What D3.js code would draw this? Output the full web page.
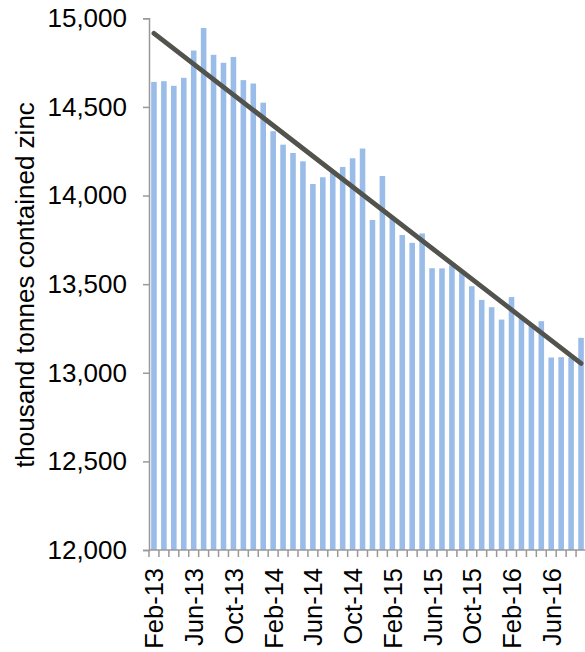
<!DOCTYPE html>
<html>
<head>
<meta charset="utf-8">
<script src="https://cdn.jsdelivr.net/npm/d3@7"></script>
<style>
  html, body { margin: 0; padding: 0; background: #fff; }
  svg { display: block; }
  text { font-family: "Liberation Sans", Arial, sans-serif; fill: #000; }
</style>
</head>
<body>
<svg id="chart" width="585" height="652"></svg>
<script>
// Monthly stocks, Feb-2013 to Sep-2016 (thousand tonnes contained zinc)
const months = [
  "Feb-13","Mar-13","Apr-13","May-13","Jun-13","Jul-13","Aug-13","Sep-13","Oct-13","Nov-13","Dec-13",
  "Jan-14","Feb-14","Mar-14","Apr-14","May-14","Jun-14","Jul-14","Aug-14","Sep-14","Oct-14","Nov-14","Dec-14",
  "Jan-15","Feb-15","Mar-15","Apr-15","May-15","Jun-15","Jul-15","Aug-15","Sep-15","Oct-15","Nov-15","Dec-15",
  "Jan-16","Feb-16","Mar-16","Apr-16","May-16","Jun-16","Jul-16","Aug-16","Sep-16"
];
const stocks = [
  14641, 14645, 14619, 14664, 14818, 14945, 14794, 14749, 14782, 14651, 14632,
  14524, 14363, 14287, 14240, 14193, 14065, 14103, 14129, 14161, 14210, 14265,
  13862, 14110, 13880, 13777, 13733, 13786, 13590, 13589, 13605, 13567, 13488,
  13411, 13370, 13300, 13427, 13306, 13264, 13291, 13086, 13088, 13086, 13197
];
const labelledMonths = ["Feb-13","Jun-13","Oct-13","Feb-14","Jun-14","Oct-14","Feb-15","Jun-15","Oct-15","Feb-16","Jun-16"];
const yTicks = [12000, 12500, 13000, 13500, 14000, 14500, 15000];

const svg = d3.select("#chart");
const plotLeft = 149, plotRight = 586, plotTop = 18.3, plotBottom = 550;

const x = d3.scaleBand().domain(months).range([plotLeft, plotRight]).paddingInner(0.44).paddingOuter(0.22);
const y = d3.scaleLinear().domain([12000, 15000]).range([plotBottom, plotTop]);

// Bars
svg.append("g").selectAll("rect").data(months).join("rect")
  .attr("x", d => x(d))
  .attr("width", x.bandwidth())
  .attr("y", (d, i) => y(stocks[i]))
  .attr("height", (d, i) => plotBottom - y(stocks[i]))
  .attr("fill", "#99bce8");

// Linear trend (least squares over month index)
const n = stocks.length;
const idx = d3.range(n);
const mx = d3.mean(idx), my = d3.mean(stocks);
const slope = d3.sum(idx, i => (i - mx) * (stocks[i] - my)) / d3.sum(idx, i => (i - mx) * (i - mx));
const icpt = my - slope * mx;
const cx = i => x(months[i]) + x.bandwidth() / 2;
svg.append("line")
  .attr("x1", cx(0)).attr("y1", y(icpt))
  .attr("x2", cx(n - 1)).attr("y2", y(icpt + slope * (n - 1)))
  .attr("stroke", "#53534d").attr("stroke-width", 4.8).attr("stroke-linecap", "round");

// Y axis
const yAxis = d3.axisLeft(y).tickValues(yTicks).tickSize(6).tickPadding(16)
  .tickFormat(d3.format(","));
const gy = svg.append("g").attr("transform", `translate(${plotLeft},0)`).call(yAxis);
gy.select(".domain").attr("stroke", "#999").attr("stroke-width", 1.5);
gy.selectAll(".tick line").attr("stroke", "#999").attr("stroke-width", 1.5);
gy.selectAll(".tick text").style("font-size", "26px").attr("fill", "#000");

// X axis: tick marks on category boundaries, labels every 4 months
const step = x.step();
const boundaries = d3.range(n + 1).map(i => x(months[0]) - x.paddingInner() * step / 2 + i * step);
const gx = svg.append("g");
gx.append("line").attr("x1", plotLeft).attr("x2", plotRight).attr("y1", plotBottom).attr("y2", plotBottom)
  .attr("stroke", "#999").attr("stroke-width", 1.5);
gx.selectAll("line.tk").data(boundaries).join("line").attr("class", "tk")
  .attr("x1", d => d).attr("x2", d => d).attr("y1", plotBottom).attr("y2", plotBottom + 7)
  .attr("stroke", "#999").attr("stroke-width", 1.5);
gx.selectAll("text").data(labelledMonths).join("text")
  .attr("transform", d => `translate(${x(d) + x.bandwidth() / 2 + 9.5},${plotBottom + 18}) rotate(-90)`)
  .attr("text-anchor", "end")
  .style("font-size", "25.5px")
  .text(d => d);

// Y axis title
svg.append("text")
  .attr("transform", `translate(34,285) rotate(-90)`)
  .attr("text-anchor", "middle")
  .style("font-size", "26px")
  .text("thousand tonnes contained zinc");
</script>
</body>
</html>
